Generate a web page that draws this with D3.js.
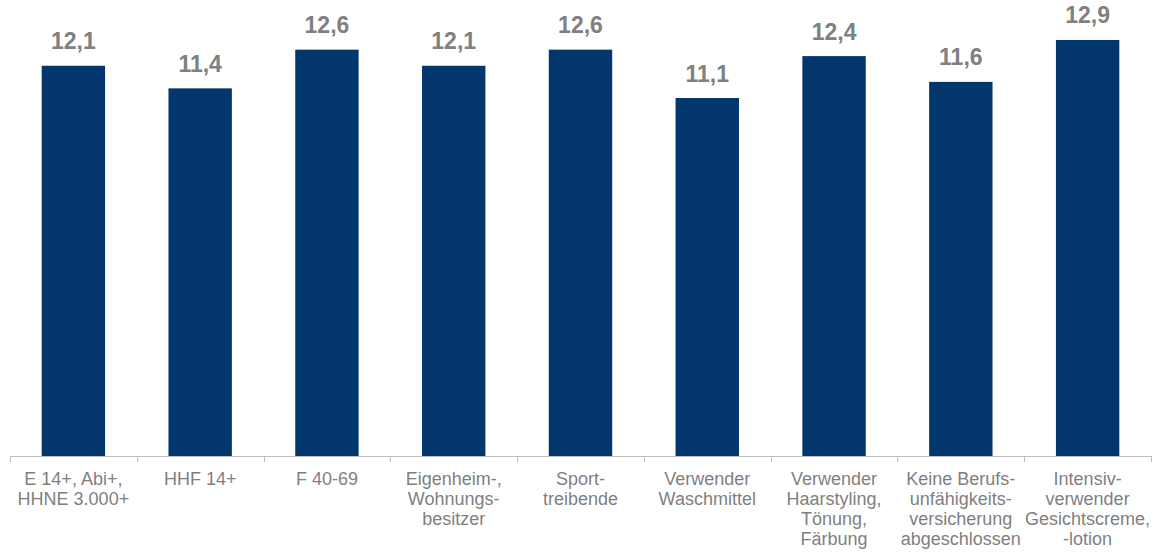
<!DOCTYPE html>
<html>
<head>
<meta charset="utf-8">
<script src="https://cdn.jsdelivr.net/npm/d3@7"></script>
<style>
  html, body { margin: 0; padding: 0; background: #ffffff; }
  svg { display: block; }
</style>
</head>
<body>
<svg id="chart" width="1158" height="554"></svg>
<script>
const categories = [
  ["E 14+, Abi+,", "HHNE 3.000+"],
  ["HHF 14+"],
  ["F 40-69"],
  ["Eigenheim-,", "Wohnungs-", "besitzer"],
  ["Sport-", "treibende"],
  ["Verwender", "Waschmittel"],
  ["Verwender", "Haarstyling,", "Tönung,", "Färbung"],
  ["Keine Berufs-", "unfähigkeits-", "versicherung", "abgeschlossen"],
  ["Intensiv-", "verwender", "Gesichtscreme,", "-lotion"]
];
const values = [12.1, 11.4, 12.6, 12.1, 12.6, 11.1, 12.4, 11.6, 12.9];
const yDomain = [0, 14];

(function () {
const svg = d3.select("#chart");
const mLeft = 10, mRight = 1151, mTop = 4.5, mBottom = 456;

const ids = categories.map((c, i) => i);
const x = d3.scaleBand().domain(ids).range([mLeft, mRight])
  .paddingInner(0.5).paddingOuter(0.25);
const y = d3.scaleLinear().domain(yDomain).range([mBottom, mTop]);
const step = x.step();

// bars
svg.append("g").selectAll("rect").data(values).join("rect")
  .attr("x", (d, i) => x(i))
  .attr("width", x.bandwidth())
  .attr("y", d => y(d))
  .attr("height", d => y(0) - y(d))
  .attr("fill", "#02366d");

// value labels
const fmt = v => d3.format(".1f")(v).replace(".", ",");
svg.append("g").selectAll("text").data(values).join("text")
  .attr("x", (d, i) => x(i) + x.bandwidth() / 2)
  .attr("y", d => y(d) - 16.5)
  .attr("text-anchor", "middle")
  .attr("font-family", "Liberation Sans, Arial, sans-serif")
  .attr("font-weight", "bold")
  .attr("font-size", "23px")
  .attr("fill", "#808080")
  .text(d => fmt(d));

// axis line
svg.append("line")
  .attr("x1", mLeft).attr("x2", mRight)
  .attr("y1", y(0) + 0.5).attr("y2", y(0) + 0.5)
  .attr("stroke", "#bfbfbf").attr("stroke-width", 1);

// tick marks at category boundaries
const bounds = d3.range(categories.length + 1).map(i => mLeft + i * step);
svg.append("g").selectAll("line").data(bounds).join("line")
  .attr("x1", d => Math.round(d) + 0.5).attr("x2", d => Math.round(d) + 0.5)
  .attr("y1", y(0)).attr("y2", y(0) + 6)
  .attr("stroke", "#bfbfbf").attr("stroke-width", 1);

// category labels
const lab = svg.append("g").selectAll("text").data(categories).join("text")
  .attr("x", (d, i) => x(i) + x.bandwidth() / 2)
  .attr("y", 485)
  .attr("text-anchor", "middle")
  .attr("font-family", "Liberation Sans, Arial, sans-serif")
  .attr("font-size", "18px")
  .attr("fill", "#7f7f7f");
lab.each(function (d, i) {
  const t = d3.select(this);
  d.forEach((line, j) => {
    t.append("tspan")
      .attr("x", x(i) + x.bandwidth() / 2)
      .attr("dy", j === 0 ? 0 : 20)
      .text(line);
  });
});
})();
</script>
</body>
</html>
